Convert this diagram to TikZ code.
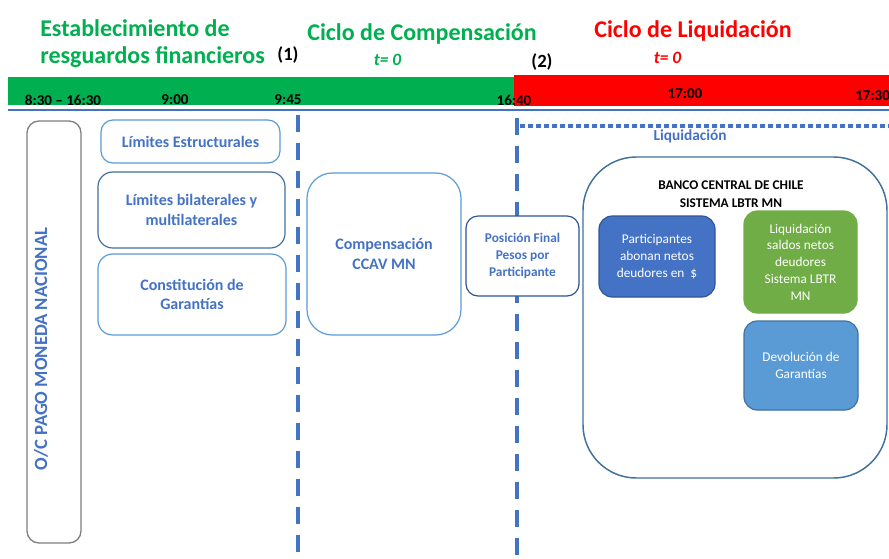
\documentclass[tikz,border=0pt]{standalone}
\usepackage{fontspec}
\setmainfont{Carlito}
\definecolor{txtblue}{HTML}{4472C4}
\definecolor{lineblue}{HTML}{4472C4}
\definecolor{boxlight}{HTML}{5B9BD5}
\definecolor{boxmid}{HTML}{41719C}
\definecolor{boxdark}{HTML}{2F5597}
\definecolor{bargreen}{HTML}{00B050}
\definecolor{barred}{HTML}{FF0000}
\definecolor{fillgreen}{HTML}{70AD47}
\definecolor{fillblue}{HTML}{4472C4}
\definecolor{filllight}{HTML}{5B9BD5}
\definecolor{framegray}{HTML}{7F7F7F}
\begin{document}
\begin{tikzpicture}[x=0.75pt,y=-0.75pt,
  sz/.style 2 args={minimum width={(#1)*0.75pt}, minimum height={(#2)*0.75pt}},
  rbox/.style={draw, inner sep=0pt, align=center, line width=0.9pt},
  outbox/.style={rbox, draw=boxlight, fill=white, text=txtblue, font=\fontsize{12}{14.5}\selectfont\bfseries},
  solidbox/.style={rbox, text=white, font=\fontsize{10}{12.6}\selectfont},
  timelbl/.style={font=\fontsize{11.3}{13}\selectfont\bfseries, text=black, inner sep=0pt},
  titlelbl/.style={font=\fontsize{18}{20}\selectfont\bfseries, inner sep=0pt},
  tlbl/.style={font=\fontsize{13}{15}\selectfont\bfseries\itshape, inner sep=0pt},
  numlbl/.style={font=\fontsize{14}{16}\selectfont\bfseries, text=black, inner sep=0pt},
  vdash/.style={draw=lineblue, line width=3pt, dash pattern=on 12.5pt off 8.5pt},
  hdot/.style={draw=lineblue, line width=3pt, dash pattern=on 4pt off 2pt}
]
\useasboundingbox (0,0) rectangle (889,558);
\clip (0,0) rectangle (889,558);
\fill[white] (0,0) rectangle (889,558);

% timeline bars
\fill[bargreen] (8,77) rectangle (514,105);
\fill[barred] (514,75) rectangle (889,106);
\draw[lineblue, line width=1.5pt] (8,110) -- (889,110);

% time labels
\node[timelbl] (t1) at (63,100) {8:30 – 16:30};
\node[timelbl] (t2) at (175,100) {9:00};
\node[timelbl] (t3) at (288,100) {9:45};
\node[timelbl] (t4) at (514,100) {16:40};
\node[timelbl] (t5) at (685,94) {17:00};
\node[timelbl, anchor=west] (t6) at (855,96) {17:30};

% titles
\node[titlelbl, text=bargreen, anchor=base west] (ti1) at (40,36) {Establecimiento de};
\node[titlelbl, text=bargreen, anchor=base west] (ti2) at (40,63) {resguardos financieros};
\node[numlbl, anchor=base] (n1) at (288,60) {(1)};
\node[titlelbl, text=bargreen, anchor=base] (ti3) at (422,40) {Ciclo de Compensación};
\node[tlbl, text=bargreen, anchor=base] (tz1) at (387.5,65) {t= 0};
\node[numlbl, anchor=base] (n2) at (542,67) {(2)};
\node[titlelbl, text=barred, anchor=base] (ti4) at (693,37) {Ciclo de Liquidación};
\node[tlbl, text=barred, anchor=base] (tz2) at (667.5,63) {t= 0};

% separators
\coordinate (d1a) at (297.5,115);
\coordinate (d1b) at (297.5,560);
\coordinate (d2a) at (517,118);
\coordinate (d2b) at (517,560);
\coordinate (h1a) at (520,126);
\coordinate (h1b) at (889,126);
\draw[vdash] (d1a) -- (d1b);
\draw[vdash] (d2a) -- (d2b);
\draw[hdot] (h1a) -- (h1b);
\node[font=\fontsize{11.5}{13}\selectfont\bfseries, text=txtblue, anchor=base, inner sep=0pt] (liqlbl) at (690,140) {Liquidación};

% left tall box
\node[rbox, draw=framegray, line width=1pt, rounded corners=9pt, sz={54}{422}] (oc) at (54,332) {};
\node[rotate=90, font=\fontsize{14}{16}\selectfont\bfseries, text=txtblue, inner sep=0pt] (octxt) at (41,349) {O/C PAGO MONEDA NACIONAL};

% resguardos boxes
\node[outbox, rounded corners=9pt, sz={179}{43}] (lim1) at (190.5,141.5) {Límites Estructurales};
\node[outbox, draw=boxmid, rounded corners=11pt, sz={187}{76}] (lim2) at (191.5,210) {Límites bilaterales y\\multilaterales};
\node[outbox, rounded corners=11pt, sz={188}{81}] (gar) at (192,294.5) {Constitución de\\Garantías};

% compensacion
\node[outbox, rounded corners=19pt, sz={154}{162}] (comp) at (384,254) {Compensación\\CCAV MN};
\node[outbox, draw=boxdark, rounded corners=9pt, sz={113}{80}, font=\fontsize{10}{12.8}\selectfont\bfseries] (pos) at (522.5,256) {Posición Final\\Pesos por\\Participante};

% liquidacion big box
\node[rbox, draw=boxmid, fill=white, line width=1.1pt, rounded corners=40pt, sz={304}{321}] (bcch) at (735,317.5) {};
\node[font=\fontsize{10}{13.5}\selectfont\bfseries, text=black, align=center, anchor=base, inner sep=0pt] (bcchtxt) at (731,207) {BANCO CENTRAL DE CHILE\\SISTEMA LBTR MN};
\node[solidbox, draw=boxdark, fill=fillblue, rounded corners=10pt, sz={116}{81}] (part) at (657,256.5) {Participantes\\abonan netos\\deudores en \ \$};
\node[solidbox, draw=fillgreen, fill=fillgreen, rounded corners=10pt, sz={113}{102}] (liq) at (800.5,262) {Liquidación\\saldos netos\\deudores\\Sistema LBTR\\MN};
\node[solidbox, draw=boxmid, fill=filllight, rounded corners=10pt, sz={114}{89}] (dev) at (801,365.5) {Devolución de\\Garantías};
\end{tikzpicture}
\end{document}
